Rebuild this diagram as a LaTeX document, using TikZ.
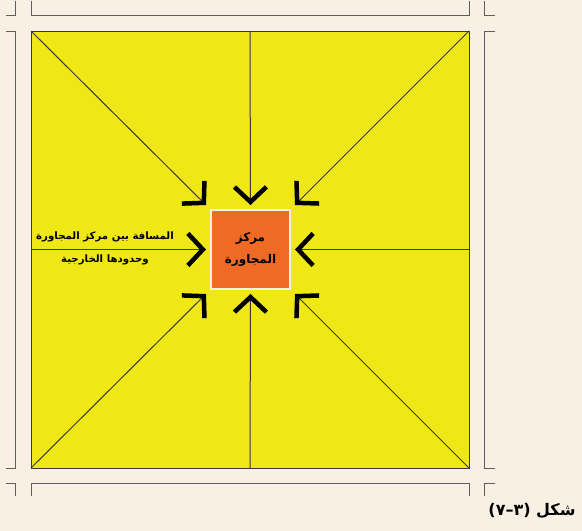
\documentclass[tikz,border=0pt]{standalone}
\usepackage{fontspec}
\newfontfamily\arabicfont[Script=Arabic]{DejaVu Sans}
\TeXXeTstate=1
\usetikzlibrary{arrows.meta}
\definecolor{paper}{HTML}{F8F0E2}
\definecolor{zonefill}{HTML}{EFE716}
\definecolor{corefill}{HTML}{EE6A25}
\definecolor{rim}{HTML}{5E5E5E}
\definecolor{ink}{HTML}{3A3A3A}

\begin{document}
\begin{tikzpicture}[x=1pt,y=-1pt,
  frame/.style={draw=rim,line width=1pt},
  zone/.style={draw=ink,fill=zonefill,line width=1pt,minimum width=438pt,
    minimum height=437pt,inner sep=0,outer sep=0},
  core/.style={fill=corefill,draw=paper,line width=2pt,minimum size=79pt,
    inner sep=0,outer sep=5pt,align=center,
    font=\arabicfont\bfseries\fontsize{12}{22}\selectfont},
  spoke/.style={draw=ink,line width=1pt,
    -{Straight Barb[length=15pt,width=32pt,line width=4.5pt,color=black]}},
  lbl/.style={align=center,font=\arabicfont\bfseries\fontsize{10.2}{23}\selectfont},
  capt/.style={font=\arabicfont\bfseries\fontsize{16}{18}\selectfont}]

% ============ PAPER + FRAME MARKS ============
\fill[paper] (0,0) rectangle (582,531);
\useasboundingbox (0,0) rectangle (582,531);
\draw[frame] (6,15) -- (15,15) -- (15,1);
\draw[frame] (31,1) -- (31,15) -- (469,15) -- (469,1);
\draw[frame] (484,1) -- (484,15) -- (495,15);
\draw[frame] (495,31) -- (484,31) -- (484,468) -- (495,468);
\draw[frame] (495,483) -- (484,483) -- (484,496);
\draw[frame] (31,496) -- (31,483) -- (469,483) -- (469,496);
\draw[frame] (6,483) -- (15,483) -- (15,496);
\draw[frame] (6,31) -- (15,31) -- (15,468) -- (6,468);

% ============ NEIGHBOURHOOD ============
\node[zone] (zone) at (250,249.5) {};
\node[core] (ctr) at (250.5,249.5)
  {\beginR مركز\endR\\\beginR المجاورة\endR};
\foreach \a in {north west,north,north east,east,south east,south,south west,west}
  \draw[spoke] (zone.\a) -- (ctr.\a);

\node[lbl] (dist) at (105,248.5)
  {\beginR المسافة بين مركز المجاورة\endR\\\beginR وحدودها الخارجية\endR};

% caption
\node[capt] (fig) at (532,511) {\beginR شكل (٣–٧)\endR};
\end{tikzpicture}
\end{document}
